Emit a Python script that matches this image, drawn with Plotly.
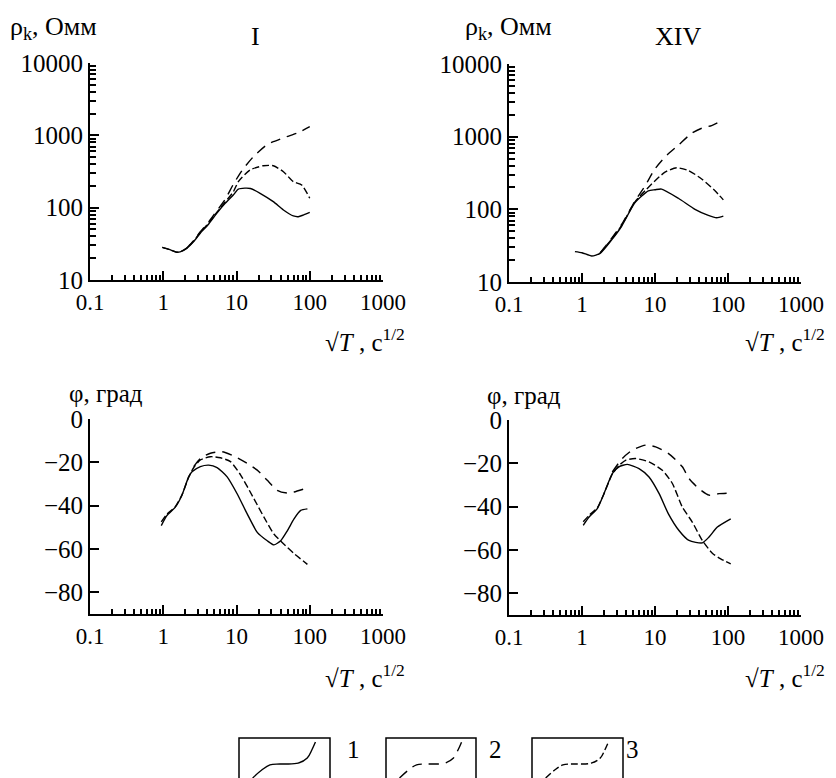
import plotly.graph_objects as go

# ---------------- data ----------------
# Panel I : apparent resistivity
rI_x1 = [0.97, 1.2, 1.53, 1.7, 2.09, 2.6, 3.18, 4.2, 5.37, 7.0, 9.04, 10.6, 13.0, 15.5, 21.0, 31.8, 43.7, 59.7, 69.8, 81.6, 100]
rI_y1 = [28.3, 26.5, 24.2, 24.5, 27.4, 34, 44, 60, 83.5, 115, 150, 180, 186, 184, 158, 121, 93, 76.8, 75, 79, 86]
rI_x3 = [0.97, 1.2, 1.53, 1.7, 2.09, 2.6, 3.18, 4.2, 5.37, 7.0, 9.04, 10.6, 15.3, 23.2, 31.8, 43.7, 59.7, 77.7, 100]
rI_y3 = [28.3, 26.5, 24.2, 24.5, 27.6, 34.5, 45, 62, 86, 120, 165, 229, 332, 380, 380, 314, 229, 206, 135]
rI_x2 = [2.09, 2.6, 3.18, 4.2, 5.37, 7.0, 9.04, 12.0, 17.0, 25.8, 31.8, 48.4, 66.4, 100]
rI_y2 = [27.6, 35, 46, 64, 90, 130, 210, 330, 507, 736, 817, 957, 1067, 1318]

# Panel XIV : apparent resistivity
rX_x1 = [0.8, 1.0, 1.36, 1.77, 2.55, 3.49, 5.32, 8.1, 10.0, 12.3, 20.9, 35.3, 53.8, 70, 86.3]
rX_y1 = [26.2, 25.3, 22.8, 24.8, 38.1, 58.5, 124, 180, 186, 190, 142, 100, 82.4, 76.5, 80.7]
rX_x3 = [1.77, 2.55, 3.49, 5.32, 7.3, 9.0, 13.7, 19.8, 28.6, 43.6, 66.4, 86.3]
rX_y3 = [25.0, 39, 60, 127, 180, 223, 325, 373, 343, 262, 180, 135]
rX_x2 = [1.77, 2.55, 3.49, 5.32, 7.3, 10.0, 13.7, 20.9, 31.8, 43.6, 59.7, 86.3]
rX_y2 = [25.2, 40, 62, 130, 210, 361, 525, 765, 1114, 1306, 1422, 1710]

# Panel I : phase
pI_x1 = [0.94, 1.12, 1.46, 1.8, 2.22, 2.47, 3.21, 4.18, 5.43, 7.45, 10.2, 14.0, 19.2, 26.3, 32.4, 40.1, 49.4, 61, 75.3, 92.9]
pI_y1 = [-49.2, -44.6, -40.7, -35.2, -26.7, -24.4, -22.0, -21.3, -22.4, -26.7, -34.5, -43.8, -52.3, -56.2, -58.1, -56.2, -51.6, -46.1, -42.2, -41.5]
pI_x3 = [0.94, 1.12, 1.46, 1.8, 2.22, 2.6, 3.21, 4.4, 6.04, 8.28, 11.4, 17.3, 23.7, 32.4, 44.5, 61, 92.9]
pI_y3 = [-47.5, -44.0, -40.5, -35.0, -27.0, -22.5, -18.9, -17.4, -17.9, -19.7, -25.9, -36.8, -45.3, -53.1, -57.8, -62.1, -67.1]
pI_x2 = [2.6, 3.21, 4.4, 6.37, 9.18, 14.0, 19.2, 26.3, 36.0, 49.4, 61, 92.9]
pI_y2 = [-22.0, -18.2, -15.8, -15.1, -17.1, -20.5, -23.6, -28.3, -32.9, -34.2, -33.7, -31.8]

# Panel XIV : phase
pX_x1 = [1.04, 1.25, 1.62, 2.0, 2.6, 3.21, 4.18, 6.04, 8.28, 11.4, 15.2, 21.3, 29.2, 44.5, 55, 71.5, 109]
pX_y1 = [-48.6, -44.8, -40.9, -34.0, -24.7, -21.6, -20.5, -22.4, -26.3, -34.0, -43.2, -51.0, -55.6, -56.7, -54.0, -49.4, -45.6]
pX_x3 = [1.04, 1.25, 1.62, 2.0, 2.6, 3.21, 4.0, 5.43, 8.28, 12.6, 17.3, 23.7, 32.4, 44.5, 61, 79.4, 109]
pX_y3 = [-47.0, -44.0, -40.5, -34.0, -25.0, -21.0, -18.5, -17.8, -19.3, -23.2, -29.3, -40.2, -47.1, -55.6, -61.5, -64.1, -66.4]
pX_x2 = [2.6, 3.55, 4.9, 7.45, 10.2, 15.2, 23.7, 29.2, 40, 55, 75.3, 109]
pX_y2 = [-24.0, -17.8, -13.9, -11.6, -12.4, -15.4, -21.6, -27.0, -31.7, -34.7, -34.0, -33.7]

# legend sample curves (box-relative)
leg_x = [0.15, 0.25, 0.34, 0.45, 0.65, 0.75, 0.8, 0.84]
leg_y = [0.0, 0.2, 0.33, 0.35, 0.37, 0.5, 0.7, 0.9]
leg_labels = ["1", "2", "3"]

x_ticks = [0.1, 1, 10, 100, 1000]
x_ticktext = ["0.1", "1", "10", "100", "1000"]
rho_ticks = [10, 100, 1000, 10000]
rho_ticktext = ["10", "100", "1000", "10000"]
phi_ticks = [0, -20, -40, -60, -80]
phi_ticktext = ["0", "−20", "−40", "−60", "−80"]
panel_titles = ["I", "XIV"]

# ---------------- figure ----------------
# page body has an 8px margin, so the figure is offset by (8, 8)
OFF = 8
W, H = 836 - OFF, 778 - OFF
FONT = "Liberation Serif"
dash2 = "10px,7px"
dash3 = "7px,3px"

def px(x):
    return (x - OFF) / W

def py(y):
    return 1 - (y - OFF) / H

fig = go.Figure()

panels = [
    ("x", "y", [(rI_x1, rI_y1, "solid"), (rI_x3, rI_y3, dash3), (rI_x2, rI_y2, dash2)]),
    ("x2", "y2", [(rX_x1, rX_y1, "solid"), (rX_x3, rX_y3, dash3), (rX_x2, rX_y2, dash2)]),
    ("x3", "y3", [(pI_x1, pI_y1, "solid"), (pI_x3, pI_y3, dash3), (pI_x2, pI_y2, dash2)]),
    ("x4", "y4", [(pX_x1, pX_y1, "solid"), (pX_x3, pX_y3, dash3), (pX_x2, pX_y2, dash2)]),
]
for xa, ya, series in panels:
    for xs, ys, d in series:
        fig.add_trace(go.Scatter(x=xs, y=ys, xaxis=xa, yaxis=ya, mode="lines",
                                 line=dict(color="black", width=1.4, dash=d, shape="spline", smoothing=0.6),
                                 showlegend=False, hoverinfo="skip"))

minor_x = [m * 10 ** e for e in (-1, 0, 1, 2) for m in range(2, 10)]
minor_rho = [m * 10 ** e for e in (1, 2, 3) for m in range(2, 10)]

def xaxis_cfg(dom):
    return dict(domain=dom, type="log", range=[-1, 3], showgrid=False, zeroline=False,
                automargin=False,
                showline=True, linecolor="black", linewidth=2,
                ticks="inside", ticklen=9, tickwidth=1.5, tickcolor="black",
                tickvals=x_ticks, ticktext=x_ticktext,
                tickfont=dict(family=FONT, size=23, color="black"),
                minor=dict(ticks="inside", ticklen=5, tickwidth=1.5, tickcolor="black", tickvals=minor_x),
                fixedrange=True)

def rho_cfg(dom, anchor):
    return dict(domain=dom, anchor=anchor, type="log", range=[1, 4], showgrid=False, zeroline=False,
                automargin=False,
                showline=True, linecolor="black", linewidth=2,
                ticks="inside", ticklen=9, tickwidth=1.5, tickcolor="black",
                tickvals=rho_ticks, ticktext=rho_ticktext,
                tickfont=dict(family=FONT, size=25, color="black"),
                minor=dict(ticks="inside", ticklen=6, tickwidth=1.5, tickcolor="black", tickvals=minor_rho),
                fixedrange=True)

def phi_cfg(dom, anchor):
    return dict(domain=dom, anchor=anchor, range=[-90, 0], showgrid=False, zeroline=False,
                automargin=False,
                showline=True, linecolor="black", linewidth=2,
                ticks="inside", ticklen=9, tickwidth=1.5, tickcolor="black",
                tickvals=phi_ticks, ticktext=phi_ticktext,
                tickfont=dict(family=FONT, size=25, color="black"),
                fixedrange=True)

xL = [px(90), px(383)]
xR = [px(509), px(801)]
yT_L = [py(280), py(63)]
yT_R = [py(282), py(64)]
yB_L = [py(614), py(419)]
yB_R = [py(615), py(420)]

fig.update_layout(
    template="none",
    width=W, height=H, margin=dict(l=0, r=0, t=0, b=0, pad=0, autoexpand=False),
    paper_bgcolor="white", plot_bgcolor="white",
    font=dict(family=FONT, color="black"),
    showlegend=False,
    xaxis=dict(xaxis_cfg(xL), anchor="y"),
    yaxis=rho_cfg(yT_L, "x"),
    xaxis2=dict(xaxis_cfg(xR), anchor="y2"),
    yaxis2=rho_cfg(yT_R, "x2"),
    xaxis3=dict(xaxis_cfg(xL), anchor="y3"),
    yaxis3=phi_cfg(yB_L, "x3"),
    xaxis4=dict(xaxis_cfg(xR), anchor="y4"),
    yaxis4=phi_cfg(yB_R, "x4"),
)

# legend boxes
boxes = [(239, 330), (386, 476), (532, 623)]
leg_dashes = ["solid", dash2, dash3]
leg_label_x = [353, 496, 641]
for i, ((bx0, bx1), d) in enumerate(zip(boxes, leg_dashes)):
    n = i + 5
    fig.add_shape(type="rect", xref="paper", yref="paper",
                  x0=px(bx0), x1=px(bx1), y0=py(800), y1=py(738),
                  line=dict(color="black", width=1.5), fillcolor="rgba(0,0,0,0)")
    fig.add_trace(go.Scatter(x=leg_x, y=leg_y, xaxis=f"x{n}", yaxis=f"y{n}", mode="lines",
                             line=dict(color="black", width=1.4, dash=d, shape="spline"),
                             showlegend=False, hoverinfo="skip"))
    fig.layout[f"xaxis{n}"] = dict(domain=[px(bx0), px(bx1)], range=[0, 1], visible=False,
                                   anchor=f"y{n}", fixedrange=True)
    fig.layout[f"yaxis{n}"] = dict(domain=[0, py(738)], range=[0, 1], visible=False,
                                   anchor=f"x{n}", fixedrange=True)
    fig.add_annotation(text=leg_labels[i], x=px(leg_label_x[i]), y=py(765), xref="paper", yref="paper",
                       showarrow=False, font=dict(family=FONT, size=25, color="black"))

def note(text, x, y, xanchor="center", size=26):
    fig.add_annotation(text=text, x=px(x), y=py(y), xref="paper", yref="paper",
                       xanchor=xanchor, yanchor="middle", showarrow=False,
                       font=dict(family=FONT, size=size, color="black"))

rho_lbl = "ρ<sub>k</sub>, Омм"
phi_lbl = "φ, град"
t_lbl = "√<i>T</i> , с<sup>1/2</sup>"

note(rho_lbl, 8, 28, "left")
note(rho_lbl, 463, 28, "left")
note(panel_titles[0], 255, 37)
note(panel_titles[1], 678, 37)
note(t_lbl, 323, 340, "left", 25)
note(t_lbl, 743, 340, "left", 25)
note(phi_lbl, 67, 394, "left", 25)
note(phi_lbl, 485, 395, "left", 25)
note(t_lbl, 323, 676, "left", 25)
note(t_lbl, 743, 676, "left", 25)

fig.write_html("out.html")
